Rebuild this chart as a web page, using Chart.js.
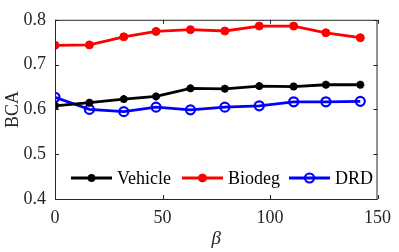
<!DOCTYPE html>
<html>
<head>
<meta charset="utf-8">
<script src="https://cdn.jsdelivr.net/npm/chart.js@4/dist/chart.umd.min.js"></script>
<style>
body{margin:0;background:#fff}
#c{display:block}
</style>
</head>
<body>
<canvas id="c" width="399" height="252"></canvas>
<script>
"use strict"
// values
const beta = [0, 16, 32, 47, 63, 79, 95, 111, 126, 142]
const vehicle = [0.608, 0.615, 0.623, 0.629, 0.647, 0.646, 0.652, 0.651, 0.655, 0.655]
const biodeg = [0.743, 0.744, 0.762, 0.774, 0.778, 0.775, 0.786, 0.786, 0.771, 0.760]
const drd = [0.627, 0.600, 0.595, 0.605, 0.599, 0.605, 0.608, 0.617, 0.617, 0.618]
const xTicks = [0, 50, 100, 150]
const yTicks = [0.4, 0.5, 0.6, 0.7, 0.8]
const names = ['Vehicle', 'Biodeg', 'DRD']

const serif = '"Liberation Serif", "Times New Roman", serif'
const pts = ys => beta.map((b, i) => ({x: b, y: ys[i]}))

// box around the plot, ticks pointing inward, legend inside the axes
const frame = {
	id: 'frame',
	afterDatasetsDraw(chart) {
		const c = chart.ctx, a = chart.chartArea
		const sx = chart.scales.x, sy = chart.scales.y
		c.save()
		c.strokeStyle = '#262626'
		c.lineWidth = 1
		c.strokeRect(a.left + 0.5, a.top + 0.5, a.right - a.left - 1, a.bottom - a.top)
		c.beginPath()
		xTicks.forEach(v => {
			const px = Math.round(sx.getPixelForValue(v)) + 0.5
			c.moveTo(px, a.bottom); c.lineTo(px, a.bottom - 4)
			c.moveTo(px, a.top); c.lineTo(px, a.top + 4)
		})
		yTicks.forEach(v => {
			const py = Math.round(sy.getPixelForValue(v)) + 0.5
			c.moveTo(a.left, py); c.lineTo(a.left + 4, py)
			c.moveTo(a.right, py); c.lineTo(a.right - 4, py)
		})
		c.stroke()

		// legend
		const ly = 178
		const starts = [71, 182, 289]
		c.font = '18px ' + serif
		c.textBaseline = 'middle'
		chart.data.datasets.forEach((ds, i) => {
			const x0 = starts[i]
			c.strokeStyle = ds.borderColor
			c.lineWidth = ds.borderWidth
			c.beginPath(); c.moveTo(x0, ly); c.lineTo(x0 + 41, ly); c.stroke()
			c.strokeStyle = ds.pointBorderColor
			c.fillStyle = ds.pointBackgroundColor
			c.lineWidth = ds.pointBorderWidth
			Chart.helpers.drawPoint(c, {
				pointStyle: ds.pointStyle, rotation: 0, radius: ds.pointRadius,
				borderWidth: ds.pointBorderWidth
			}, x0 + 20.5, ly)
			c.fillStyle = '#000'
			c.fillText(ds.label, x0 + 46, ly + 1)
		})
		c.restore()
	}
}

const mk = (label, ys, color, style, radius, fill, bw) => ({
	label, data: pts(ys), borderColor: color, backgroundColor: fill,
	pointBackgroundColor: fill, pointBorderColor: color,
	pointStyle: style, pointRadius: radius, pointBorderWidth: bw,
	borderWidth: 2.8, tension: 0
})

new Chart(document.getElementById('c'), {
	type: 'line',
	data: {
		datasets: [
			mk(names[0], vehicle, '#000000', 'star', 4, '#000000', 2.5),
			mk(names[1], biodeg, '#ff0000', 'circle', 4, '#ff0000', 1),
			mk(names[2], drd, '#0000ff', 'circle', 4.5, 'rgba(0,0,0,0)', 2.2)
		]
	},
	options: {
		responsive: false,
		animation: false,
		layout: {padding: {top: 7, right: 18, left: 0, bottom: 0}},
		plugins: {legend: {display: false}, tooltip: {enabled: false}},
		scales: {
			x: {
				type: 'linear', min: 0, max: 150,
				afterBuildTicks: s => { s.ticks = xTicks.map(v => ({value: v})) },
				afterFit: s => { s.height = 53 },
				grid: {display: false, drawTicks: false},
				border: {display: false},
				ticks: {color: '#262626', padding: 8, font: {family: serif, size: 18}},
				title: {display: true, text: 'β', color: '#262626', padding: {top: 0, bottom: 2},
					font: {family: serif, size: 19, style: 'italic'}}
			},
			y: {
				min: 0.4, max: 0.8,
				afterBuildTicks: s => { s.ticks = yTicks.map(v => ({value: v})) },
				afterFit: s => { s.width = 55 },
				grid: {display: false, drawTicks: false},
				border: {display: false},
				ticks: {color: '#262626', padding: 9, font: {family: serif, size: 18},
					callback: v => v.toFixed(1)},
				title: {display: true, text: 'BCA', color: '#262626', padding: {top: 2, bottom: 0},
					font: {family: serif, size: 18}}
			}
		}
	},
	plugins: [frame]
})
</script>
</body>
</html>
